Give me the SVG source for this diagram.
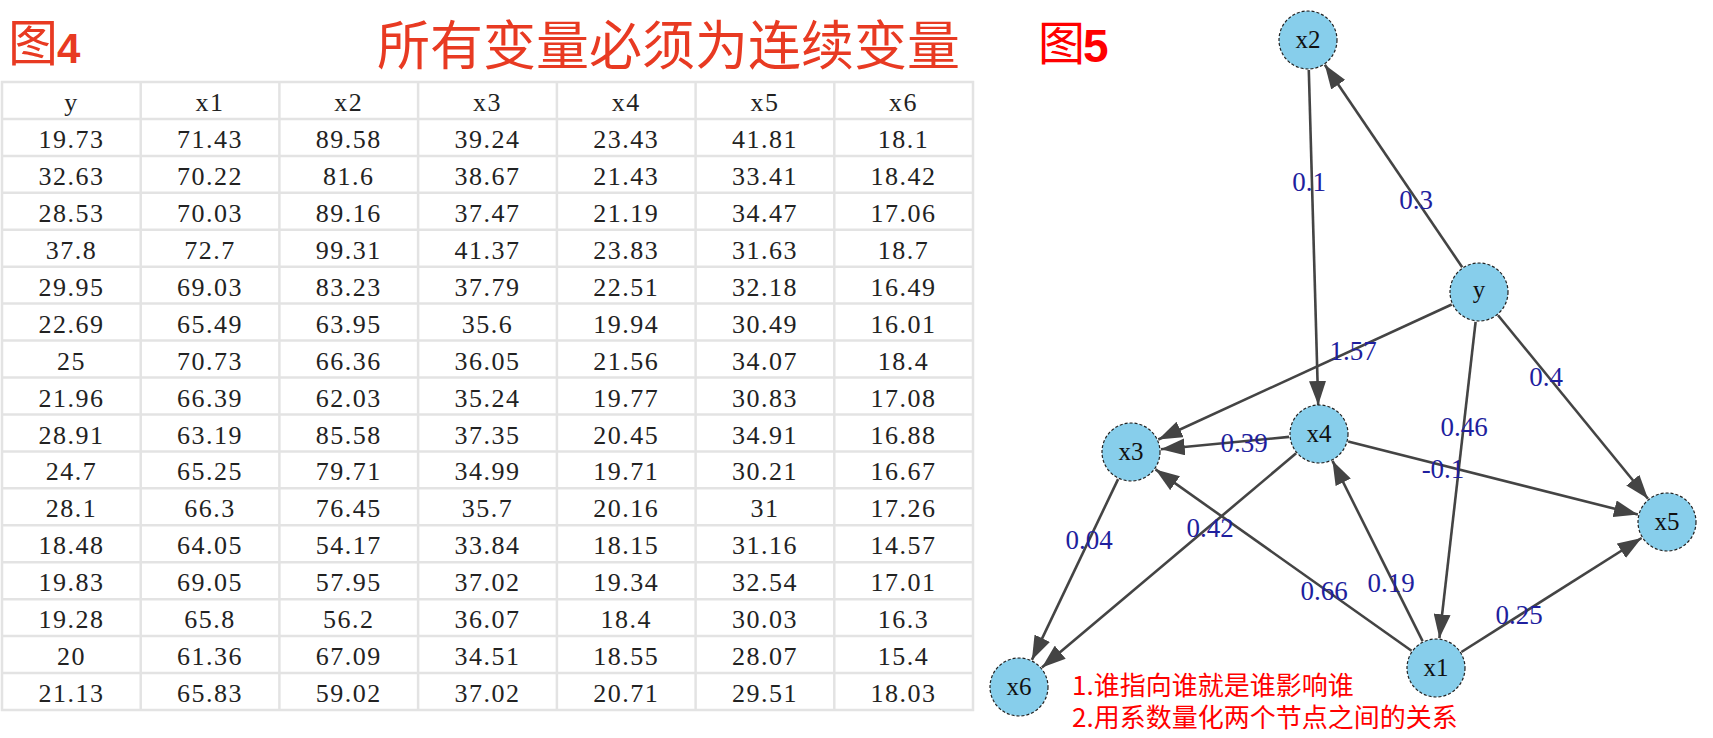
<svg xmlns="http://www.w3.org/2000/svg" width="1713" height="738" viewBox="0 0 1713 738">
<style>
.grid{stroke:#e3e3e3;stroke-width:2.5;fill:none}
.cell{font-family:"Liberation Serif","DejaVu Serif",serif;font-size:26px;fill:#222;text-anchor:middle;letter-spacing:1.5px}
.title4{font-family:"Noto Sans CJK SC",sans-serif;fill:#e83a22}
.red{font-family:"Noto Sans CJK SC",sans-serif;fill:#ff0000}
.edge{stroke:#444;stroke-width:2.6;fill:none;marker-end:url(#arr)}
.node circle{fill:#87ceeb;stroke:#222;stroke-width:1.2;stroke-dasharray:3 2}
.node text{font-family:"Liberation Serif",serif;font-size:25px;fill:#111;text-anchor:middle}
.lbl{font-family:"Liberation Serif",serif;font-size:27px;fill:#1f1f9e;text-anchor:middle}
</style>
<defs>
<marker id="arr" markerUnits="userSpaceOnUse" markerWidth="24" markerHeight="17" refX="24" refY="8.5" orient="auto">
<path d="M0,0 L24,8.5 L0,17 z" fill="#444"/>
</marker>
</defs>
<rect width="1713" height="738" fill="#fff"/>

<!-- titles -->
<text class="title4" x="8" y="61" font-size="50">图</text>
<text x="57" y="63" font-family="Liberation Sans,Arial,sans-serif" font-weight="bold" font-size="42" fill="#e83a22">4</text>
<text class="title4" x="377" y="65" font-size="53">所有变量必须为连续变量</text>
<text class="red" x="1038" y="60" font-size="47">图</text>
<text x="1083" y="62" font-family="Liberation Sans,Arial,sans-serif" font-weight="bold" font-size="46" fill="#ff0000">5</text>

<!-- table grid -->
<g id="table">
<g class="grid">
<rect x="2" y="82" width="971" height="628"/>
<line x1="140.7" y1="82" x2="140.7" y2="710"/>
<line x1="279.4" y1="82" x2="279.4" y2="710"/>
<line x1="418.1" y1="82" x2="418.1" y2="710"/>
<line x1="556.9" y1="82" x2="556.9" y2="710"/>
<line x1="695.6" y1="82" x2="695.6" y2="710"/>
<line x1="834.3" y1="82" x2="834.3" y2="710"/>
<line x1="2" y1="118.9" x2="973" y2="118.9"/>
<line x1="2" y1="155.9" x2="973" y2="155.9"/>
<line x1="2" y1="192.8" x2="973" y2="192.8"/>
<line x1="2" y1="229.8" x2="973" y2="229.8"/>
<line x1="2" y1="266.7" x2="973" y2="266.7"/>
<line x1="2" y1="303.6" x2="973" y2="303.6"/>
<line x1="2" y1="340.6" x2="973" y2="340.6"/>
<line x1="2" y1="377.5" x2="973" y2="377.5"/>
<line x1="2" y1="414.5" x2="973" y2="414.5"/>
<line x1="2" y1="451.4" x2="973" y2="451.4"/>
<line x1="2" y1="488.3" x2="973" y2="488.3"/>
<line x1="2" y1="525.3" x2="973" y2="525.3"/>
<line x1="2" y1="562.2" x2="973" y2="562.2"/>
<line x1="2" y1="599.2" x2="973" y2="599.2"/>
<line x1="2" y1="636.1" x2="973" y2="636.1"/>
<line x1="2" y1="673.0" x2="973" y2="673.0"/>
</g>
<g class="cell">
<text y="111"><tspan x="71.4">y</tspan><tspan x="210.1">x1</tspan><tspan x="348.8">x2</tspan><tspan x="487.5">x3</tspan><tspan x="626.2">x4</tspan><tspan x="764.9">x5</tspan><tspan x="903.6">x6</tspan></text>
<text y="147.9"><tspan x="71.4">19.73</tspan><tspan x="210.1">71.43</tspan><tspan x="348.8">89.58</tspan><tspan x="487.5">39.24</tspan><tspan x="626.2">23.43</tspan><tspan x="764.9">41.81</tspan><tspan x="903.6">18.1</tspan></text>
<text y="184.9"><tspan x="71.4">32.63</tspan><tspan x="210.1">70.22</tspan><tspan x="348.8">81.6</tspan><tspan x="487.5">38.67</tspan><tspan x="626.2">21.43</tspan><tspan x="764.9">33.41</tspan><tspan x="903.6">18.42</tspan></text>
<text y="221.8"><tspan x="71.4">28.53</tspan><tspan x="210.1">70.03</tspan><tspan x="348.8">89.16</tspan><tspan x="487.5">37.47</tspan><tspan x="626.2">21.19</tspan><tspan x="764.9">34.47</tspan><tspan x="903.6">17.06</tspan></text>
<text y="258.8"><tspan x="71.4">37.8</tspan><tspan x="210.1">72.7</tspan><tspan x="348.8">99.31</tspan><tspan x="487.5">41.37</tspan><tspan x="626.2">23.83</tspan><tspan x="764.9">31.63</tspan><tspan x="903.6">18.7</tspan></text>
<text y="295.7"><tspan x="71.4">29.95</tspan><tspan x="210.1">69.03</tspan><tspan x="348.8">83.23</tspan><tspan x="487.5">37.79</tspan><tspan x="626.2">22.51</tspan><tspan x="764.9">32.18</tspan><tspan x="903.6">16.49</tspan></text>
<text y="332.6"><tspan x="71.4">22.69</tspan><tspan x="210.1">65.49</tspan><tspan x="348.8">63.95</tspan><tspan x="487.5">35.6</tspan><tspan x="626.2">19.94</tspan><tspan x="764.9">30.49</tspan><tspan x="903.6">16.01</tspan></text>
<text y="369.6"><tspan x="71.4">25</tspan><tspan x="210.1">70.73</tspan><tspan x="348.8">66.36</tspan><tspan x="487.5">36.05</tspan><tspan x="626.2">21.56</tspan><tspan x="764.9">34.07</tspan><tspan x="903.6">18.4</tspan></text>
<text y="406.5"><tspan x="71.4">21.96</tspan><tspan x="210.1">66.39</tspan><tspan x="348.8">62.03</tspan><tspan x="487.5">35.24</tspan><tspan x="626.2">19.77</tspan><tspan x="764.9">30.83</tspan><tspan x="903.6">17.08</tspan></text>
<text y="443.5"><tspan x="71.4">28.91</tspan><tspan x="210.1">63.19</tspan><tspan x="348.8">85.58</tspan><tspan x="487.5">37.35</tspan><tspan x="626.2">20.45</tspan><tspan x="764.9">34.91</tspan><tspan x="903.6">16.88</tspan></text>
<text y="480.4"><tspan x="71.4">24.7</tspan><tspan x="210.1">65.25</tspan><tspan x="348.8">79.71</tspan><tspan x="487.5">34.99</tspan><tspan x="626.2">19.71</tspan><tspan x="764.9">30.21</tspan><tspan x="903.6">16.67</tspan></text>
<text y="517.3"><tspan x="71.4">28.1</tspan><tspan x="210.1">66.3</tspan><tspan x="348.8">76.45</tspan><tspan x="487.5">35.7</tspan><tspan x="626.2">20.16</tspan><tspan x="764.9">31</tspan><tspan x="903.6">17.26</tspan></text>
<text y="554.3"><tspan x="71.4">18.48</tspan><tspan x="210.1">64.05</tspan><tspan x="348.8">54.17</tspan><tspan x="487.5">33.84</tspan><tspan x="626.2">18.15</tspan><tspan x="764.9">31.16</tspan><tspan x="903.6">14.57</tspan></text>
<text y="591.2"><tspan x="71.4">19.83</tspan><tspan x="210.1">69.05</tspan><tspan x="348.8">57.95</tspan><tspan x="487.5">37.02</tspan><tspan x="626.2">19.34</tspan><tspan x="764.9">32.54</tspan><tspan x="903.6">17.01</tspan></text>
<text y="628.2"><tspan x="71.4">19.28</tspan><tspan x="210.1">65.8</tspan><tspan x="348.8">56.2</tspan><tspan x="487.5">36.07</tspan><tspan x="626.2">18.4</tspan><tspan x="764.9">30.03</tspan><tspan x="903.6">16.3</tspan></text>
<text y="665.1"><tspan x="71.4">20</tspan><tspan x="210.1">61.36</tspan><tspan x="348.8">67.09</tspan><tspan x="487.5">34.51</tspan><tspan x="626.2">18.55</tspan><tspan x="764.9">28.07</tspan><tspan x="903.6">15.4</tspan></text>
<text y="702"><tspan x="71.4">21.13</tspan><tspan x="210.1">65.83</tspan><tspan x="348.8">59.02</tspan><tspan x="487.5">37.02</tspan><tspan x="626.2">20.71</tspan><tspan x="764.9">29.51</tspan><tspan x="903.6">18.03</tspan></text>
</g>
</g>

<!-- connectors -->
<g id="connectors">
<line class="edge" x1="1462.2" y1="267.2" x2="1324.8" y2="64.8"/>
<line class="edge" x1="1308.8" y1="70" x2="1318.2" y2="405"/>
<line class="edge" x1="1451.7" y1="304.5" x2="1158.3" y2="439.5"/>
<line class="edge" x1="1498" y1="315.2" x2="1648" y2="498.8"/>
<line class="edge" x1="1475.6" y1="321.8" x2="1439.4" y2="638.2"/>
<line class="edge" x1="1289.1" y1="436.9" x2="1160.8" y2="449.2"/>
<line class="edge" x1="1348.1" y1="441.4" x2="1637.9" y2="514.6"/>
<line class="edge" x1="1296.1" y1="453.3" x2="1041.9" y2="667.6"/>
<line class="edge" x1="1118.1" y1="479.1" x2="1031.9" y2="659.9"/>
<line class="edge" x1="1411.5" y1="650.7" x2="1155.5" y2="469.4"/>
<line class="edge" x1="1422.6" y1="641.2" x2="1332.5" y2="460.8"/>
<line class="edge" x1="1461.4" y1="652" x2="1641.6" y2="538"/>
<g class="lbl">
<text x="1416" y="209">0.3</text>
<text x="1309" y="191">0.1</text>
<text x="1353" y="360">1.57</text>
<text x="1546" y="386">0.4</text>
<text x="1464" y="436">0.46</text>
<text x="1244" y="452">0.39</text>
<text x="1443" y="478">-0.1</text>
<text x="1210" y="537">0.42</text>
<text x="1089" y="549">0.04</text>
<text x="1324" y="600">0.66</text>
<text x="1391" y="592">0.19</text>
<text x="1519" y="624">0.25</text>
</g>
</g>

<!-- nodes -->
<g id="node-x2" class="node"><circle cx="1308" cy="40" r="29"/><text x="1308" y="48">x2</text></g>
<g id="node-y" class="node"><circle cx="1479" cy="292" r="29"/><text x="1479" y="298">y</text></g>
<g id="node-x3" class="node"><circle cx="1131" cy="452" r="29"/><text x="1131" y="460">x3</text></g>
<g id="node-x4" class="node"><circle cx="1319" cy="434" r="29"/><text x="1319" y="442">x4</text></g>
<g id="node-x5" class="node"><circle cx="1667" cy="522" r="29"/><text x="1667" y="530">x5</text></g>
<g id="node-x6" class="node"><circle cx="1019" cy="687" r="29"/><text x="1019" y="695">x6</text></g>
<g id="node-x1" class="node"><circle cx="1436" cy="668" r="29"/><text x="1436" y="676">x1</text></g>

<!-- notes -->
<text class="red" x="1072" y="695" font-size="26">1.谁指向谁就是谁影响谁</text>
<text class="red" x="1072" y="727" font-size="26">2.用系数量化两个节点之间的关系</text>
</svg>
